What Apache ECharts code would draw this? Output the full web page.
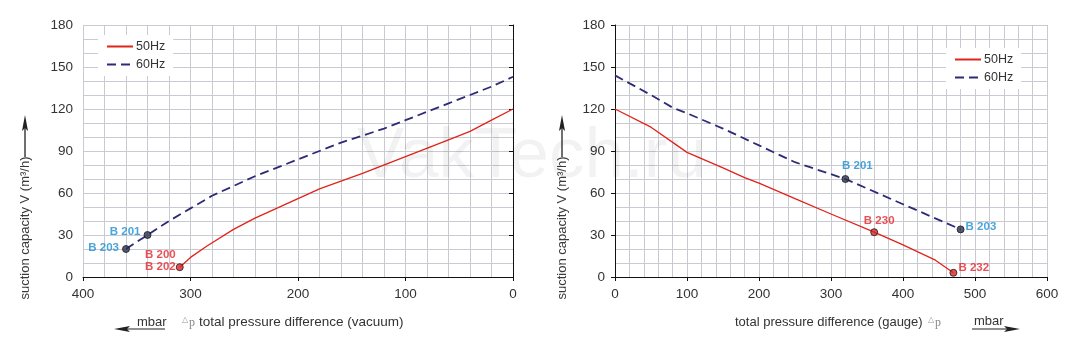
<!DOCTYPE html>
<html>
<head>
<meta charset="utf-8">
<script src="https://cdn.jsdelivr.net/npm/echarts@6/dist/echarts.min.js"></script>
<style>
  html, body { margin: 0; padding: 0; background: #fff; }
  #chart { width: 1078px; height: 350px; }
</style>
</head>
<body>
<div id="chart"></div>
<script>
// Vacuum side (left chart): pressure difference in mbar, capacity in m³/h
const vac50X = [310, 300, 285, 260, 240, 220, 200, 180, 140, 100, 60, 40, 20, 0];
const vac50Y = [7, 14, 22, 34, 42, 49, 56, 63, 74, 86, 98, 104, 112, 120];
const vac60X = [360, 340, 320, 300, 280, 260, 240, 220, 200, 180, 160, 140, 120, 100, 80, 60, 40, 20, 0];
const vac60Y = [20, 30, 40, 49, 58, 65, 72, 78, 84, 90, 96, 101, 106, 112, 118, 124, 130, 136, 143];

// Pressure side (right chart)
const gau50X = [0, 50, 100, 150, 180, 200, 250, 300, 360, 400, 445, 470];
const gau50Y = [120, 107, 89, 78, 71, 67, 56, 45, 32, 23, 12, 3];
const gau60X = [0, 50, 80, 100, 150, 200, 250, 320, 400, 480];
const gau60Y = [144, 130, 121, 117, 106, 94, 82, 70, 52, 34];

// Model end points
const vacModels60 = [['B 203', 360, 20], ['B 201', 340, 30]];
const vacModels50 = [['B 200\nB 202', 310, 7]];
const gauModels60 = [['B 201', 320, 70], ['B 203', 480, 34]];
const gauModels50 = [['B 230', 360, 32], ['B 232', 470, 3]];

const vacTicks = [400, 300, 200, 100, 0];
const gauTicks = [0, 100, 200, 300, 400, 500, 600];
const capTicks = [0, 30, 60, 90, 120, 150, 180];

const seriesNames = ['50Hz', '60Hz'];
const yTitle = 'suction capacity V (m³/h)';

const RED = '#e2231a';
const NAVY = '#2e2a78';
const GRIDC = '#c9cad2';
const FONT = '"Liberation Sans", Arial, sans-serif';

const zip = (xs, ys) => xs.map((x, i) => [x, ys[i]]);

function xAxis(gridIndex, ticks, inverse) {
  return {
    type: 'value', gridIndex,
    min: Math.min(...ticks), max: Math.max(...ticks), interval: 100, inverse,
    axisLine: { show: true, lineStyle: { color: '#111', width: 1 } },
    axisTick: { show: true, length: 4, lineStyle: { color: '#111' } },
    axisLabel: { color: '#333', fontSize: 13.5, fontFamily: FONT, margin: 10 },
    splitLine: { show: true, lineStyle: { color: GRIDC, width: 1 } },
    minorTick: { show: false, splitNumber: 5 },
    minorSplitLine: { show: true, lineStyle: { color: GRIDC, width: 1 } }
  };
}
function yAxis(gridIndex) {
  return {
    type: 'value', gridIndex,
    min: capTicks[0], max: capTicks[capTicks.length - 1], interval: 30,
    axisLine: { show: true, lineStyle: { color: '#111', width: 1 } },
    axisTick: { show: true, length: 4, lineStyle: { color: '#111' } },
    axisLabel: { color: '#333', fontSize: 13.5, fontFamily: FONT, margin: 10 },
    splitLine: { show: true, lineStyle: { color: GRIDC, width: 1 } },
    minorTick: { show: false, splitNumber: 3 },
    minorSplitLine: { show: true, lineStyle: { color: GRIDC, width: 1 } }
  };
}

function curve(name, idx, data) {
  const dashed = name === seriesNames[1];
  return {
    name, type: 'line', xAxisIndex: idx, yAxisIndex: idx,
    data, symbol: 'none', z: 3,
    lineStyle: dashed ? { color: NAVY, width: 1.8, type: [9, 5] } : { color: RED, width: 1.3 },
    itemStyle: { color: dashed ? NAVY : RED }
  };
}

const labelPlace = {
  'vac:B 203': { position: 'left', distance: 3, offset: [0, -1] },
  'vac:B 201': { position: 'left', distance: 3, offset: [0, -3] },
  'vac:B 200\nB 202': { position: 'left', distance: 0, offset: [0, -6] },
  'gau:B 201': { position: 'top', distance: 3, offset: [12, 0] },
  'gau:B 203': { position: 'right', distance: 1, offset: [0, -3] },
  'gau:B 230': { position: 'top', distance: 1, offset: [5, 0] },
  'gau:B 232': { position: 'right', distance: 1, offset: [0, -5] }
};

function models(side, idx, pts, fill, textColor) {
  return {
    type: 'scatter', xAxisIndex: idx, yAxisIndex: idx, z: 5,
    symbolSize: 7,
    itemStyle: { color: fill, borderColor: '#1c1c1c', borderWidth: 1 },
    data: pts.map(([lab, x, y]) => ({
      value: [x, y],
      label: Object.assign({
        show: true, formatter: lab, color: textColor,
        fontWeight: 'bold', fontSize: 11.5, fontFamily: FONT, lineHeight: 12
      }, labelPlace[side + ':' + lab])
    }))
  };
}

function legend(left, top) {
  return {
    data: seriesNames, orient: 'vertical', left, top,
    backgroundColor: '#fff', padding: [5, 8, 5, 8],
    itemWidth: 26, itemHeight: 12, itemGap: 5, selectedMode: false,
    // keep only the line in each legend key
    itemStyle: { opacity: 0, color: 'transparent', borderWidth: 0 },
    textStyle: { color: '#333', fontSize: 12.5, fontFamily: FONT, padding: [0, 0, 0, -2] }
  };
}

function yTitleGraphic(x) {
  return [
    {
      type: 'text', x, y: 228, rotation: Math.PI / 2,
      style: {
        text: yTitle, fontSize: 13, fontFamily: FONT, fill: '#3a3a3a',
        align: 'center', verticalAlign: 'middle', textAlign: 'center', textVerticalAlign: 'middle'
      }
    },
    { type: 'line', shape: { x1: x, y1: 157, x2: x, y2: 126 }, style: { stroke: '#222', lineWidth: 1.3 } },
    { type: 'polygon', shape: { points: [[x, 115], [x - 3, 131], [x, 128], [x + 3, 131]] }, style: { fill: '#222' } }
  ];
}

function tinyText(x, y, text, size, color, family) {
  return {
    type: 'text', x, y,
    style: { text, fontSize: size, fontFamily: family || FONT, fill: color, verticalAlign: 'middle', textVerticalAlign: 'middle' }
  };
}

const chart = echarts.init(document.getElementById('chart'), null, { renderer: 'canvas' });

chart.setOption({
  animation: false,
  backgroundColor: '#fff',
  textStyle: { fontFamily: FONT },
  grid: [
    { left: 83, top: 25, width: 430, height: 252, show: false },
    { left: 615, top: 25, width: 432, height: 252, show: false }
  ],
  legend: [legend(98, 35), legend(946, 48)],
  xAxis: [xAxis(0, vacTicks, true), xAxis(1, gauTicks, false)],
  yAxis: [yAxis(0), yAxis(1)],
  series: [
    curve(seriesNames[0], 0, zip(vac50X, vac50Y)),
    curve(seriesNames[1], 0, zip(vac60X, vac60Y)),
    curve(seriesNames[0], 1, zip(gau50X, gau50Y)),
    curve(seriesNames[1], 1, zip(gau60X, gau60Y)),
    models('vac', 0, vacModels60, '#2b3152', '#1b8fd2'),
    models('vac', 0, vacModels50, '#d8262a', '#e3262b'),
    models('gau', 1, gauModels60, '#2b3152', '#1b8fd2'),
    models('gau', 1, gauModels50, '#d8262a', '#e3262b')
  ],
  graphic: [
    // faint site mark across both plots
    {
      type: 'text', x: 357, y: 157, z: 100, silent: true,
      style: { text: 'VakTech.ru', fontSize: 71, fontFamily: FONT, fill: 'rgba(0,0,0,0.05)', verticalAlign: 'middle', textVerticalAlign: 'middle' }
    },
    ...yTitleGraphic(25),
    ...yTitleGraphic(562),
    // left x title with unit arrow pointing left
    tinyText(137, 322, 'mbar', 13, '#333'),
    { type: 'line', shape: { x1: 124, y1: 329, x2: 165, y2: 329 }, style: { stroke: '#222', lineWidth: 1.2 } },
    { type: 'polygon', shape: { points: [[114, 329], [130, 326], [127, 329], [130, 332]] }, style: { fill: '#222' } },
    tinyText(182, 320, '△', 8, '#999'),
    tinyText(189, 323, 'p', 12, '#888', '"Liberation Serif", serif'),
    tinyText(199, 322, 'total pressure difference (vacuum)', 13.5, '#333'),
    // right x title with unit arrow pointing right
    tinyText(735, 322, 'total pressure difference (gauge)', 13, '#333'),
    tinyText(928, 320, '△', 8, '#999'),
    tinyText(935, 323, 'p', 12, '#888', '"Liberation Serif", serif'),
    tinyText(974, 321, 'mbar', 13, '#333'),
    { type: 'line', shape: { x1: 972, y1: 329, x2: 1010, y2: 329 }, style: { stroke: '#222', lineWidth: 1.2 } },
    { type: 'polygon', shape: { points: [[1020, 329], [1004, 326], [1007, 329], [1004, 332]] }, style: { fill: '#222' } }
  ]
});
</script>
</body>
</html>
